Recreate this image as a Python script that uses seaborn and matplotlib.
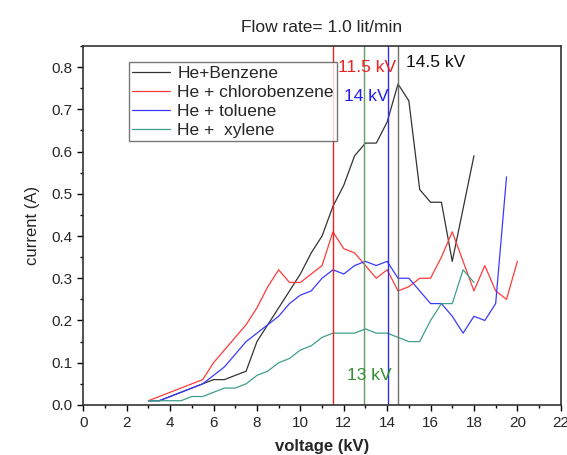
"""Discharge current vs voltage for He + aromatic mixtures."""
import pandas as pd
import matplotlib.pyplot as plt
import seaborn as sns
from matplotlib.ticker import MultipleLocator

voltage = [3, 3.5, 4, 4.5, 5, 5.5, 6, 6.5, 7, 7.5, 8, 8.5, 9, 9.5, 10, 10.5,
           11, 11.5, 12, 12.5, 13, 13.5, 14, 14.5, 15, 15.5, 16, 16.5, 17,
           17.5, 18, 18.5, 19, 19.5, 20]

benzene = [0.01, 0.01, 0.02, 0.03, 0.04, 0.05, 0.06, 0.06, 0.07, 0.08, 0.15,
           0.19, 0.23, 0.27, 0.31, 0.36, 0.40, 0.47, 0.52, 0.59, 0.62, 0.62,
           0.67, 0.76, 0.72, 0.51, 0.48, 0.48, 0.34, 0.465, 0.59]
chlorobenzene = [0.01, 0.02, 0.03, 0.04, 0.05, 0.06, 0.10, 0.13, 0.16, 0.19,
                 0.23, 0.28, 0.32, 0.29, 0.29, 0.31, 0.33, 0.41, 0.37, 0.36,
                 0.33, 0.30, 0.32, 0.27, 0.28, 0.30, 0.30, 0.35, 0.41, 0.34,
                 0.27, 0.33, 0.27, 0.25, 0.34]
toluene = [0.01, 0.01, 0.02, 0.03, 0.04, 0.05, 0.07, 0.09, 0.12, 0.15, 0.17,
           0.19, 0.21, 0.24, 0.26, 0.27, 0.30, 0.32, 0.31, 0.33, 0.34, 0.33,
           0.34, 0.30, 0.30, 0.27, 0.24, 0.24, 0.21, 0.17, 0.21, 0.20, 0.24,
           0.54]
xylene = [0.01, 0.01, 0.01, 0.01, 0.02, 0.02, 0.03, 0.04, 0.04, 0.05, 0.07,
          0.08, 0.10, 0.11, 0.13, 0.14, 0.16, 0.17, 0.17, 0.17, 0.18, 0.17,
          0.17, 0.16, 0.15, 0.15, 0.20, 0.24, 0.24, 0.32, 0.29]

series = {
    "He+Benzene": benzene,
    "He + chlorobenzene": chlorobenzene,
    "He + toluene": toluene,
    "He +  xylene": xylene,
}
colors = ["#333333", "#ff3b3b", "#3a3aff", "#3f9f8a"]

# peak voltages marked with vertical lines (positions as drawn)
peak_kv = [11.5, 12.93, 14.05, 14.5]
line_colors = ["#ee2222", "#5f9f5f", "#3030ee", "#707070"]
peak_labels = ["11.5 kV", "13 kV", "14 kV", "14.5 kV"]
text_colors = ["#ee2222", "#2f8f2f", "#2020ee", "#111111"]
label_pos = [(11.72, 0.80), (12.15, 0.07), (12.0, 0.73), (14.85, 0.81)]

rows = []
for name, vals in series.items():
    for v, c in zip(voltage, vals):
        rows.append({"voltage": v, "current": c, "mixture": name})
df = pd.DataFrame(rows)

sns.set_theme(style="white")
plt.rcParams["font.family"] = ["Liberation Sans", "DejaVu Sans"]

fig = plt.figure(figsize=(5.67, 4.55), dpi=100)
ax = fig.add_axes([0.147, 0.110, 0.842, 0.789])

sns.lineplot(data=df, x="voltage", y="current", hue="mixture",
             palette=colors, linewidth=0.9, ax=ax)

for kv, col in zip(peak_kv, line_colors):
    ax.axvline(kv, color=col, linewidth=1.0)
for txt, col, (tx, ty) in zip(peak_labels, text_colors, label_pos):
    ax.text(tx, ty, txt, color=col, fontsize=12.5, va="center", ha="left")

ax.set_xlim(0, 22)
ax.set_ylim(0, 0.85)
ax.xaxis.set_major_locator(MultipleLocator(2))
ax.xaxis.set_minor_locator(MultipleLocator(1))
ax.yaxis.set_major_locator(MultipleLocator(0.1))
ax.yaxis.set_minor_locator(MultipleLocator(0.05))
ax.yaxis.set_major_formatter(plt.FormatStrFormatter("%.1f"))
ax.tick_params(which="both", direction="out", bottom=True, left=True,
               labelsize=11, color="black", pad=4)
ax.tick_params(which="major", length=4, width=1)
ax.tick_params(which="minor", length=2.5, width=1)
for sp in ax.spines.values():
    sp.set_color("#333333")
    sp.set_linewidth(1.2)

ax.set_title("Flow rate= 1.0 lit/min", fontsize=12.5, pad=10)
ax.set_xlabel("voltage (kV)", fontsize=12, fontweight="bold", labelpad=6.5)
ax.set_ylabel("current (A)", fontsize=12, labelpad=8)

leg = ax.legend(loc="upper left", bbox_to_anchor=(0.095, 0.955),
                fontsize=12.5, frameon=True, fancybox=False,
                edgecolor="#555555", handlelength=2.2, handletextpad=0.4,
                borderpad=0.2, labelspacing=0.22, borderaxespad=0)
leg.get_frame().set_linewidth(1.0)

fig.savefig("out.png", dpi=100)
